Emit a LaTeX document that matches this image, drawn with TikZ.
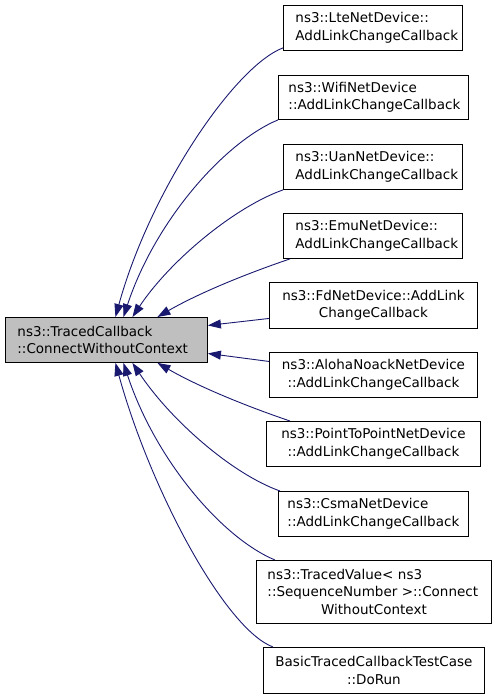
\documentclass[tikz,border=0pt]{standalone}
\usepackage{fontspec}
\setmainfont{DejaVu Sans}
\usetikzlibrary{arrows.meta}
\definecolor{edgeblue}{HTML}{191970}
\definecolor{maingray}{HTML}{BFBFBF}
\begin{document}
\begin{tikzpicture}[x=1pt,y=-1pt,
  box/.style={draw=black, line width=0.9pt, fill=white, inner ysep=0pt, anchor=north west,
    font=\fontsize{13.5}{17.5}\selectfont},
  edge/.style={draw=edgeblue, line width=0.9pt, -{Triangle[length=13pt,width=9pt]}}]
\useasboundingbox (0,0) rectangle (496,699);

\node[box, fill=maingray, text width=178pt, inner xsep=12pt, minimum height=45pt, align=left] (main) at (5,317) {ns3::TracedCallback\\::ConnectWithoutContext};

\node[box, text width=155pt, inner xsep=12pt, minimum height=45pt, align=left] (lte) at (283,5) {ns3::LteNetDevice::\\AddLinkChangeCallback};
\node[box, text width=170pt, inner xsep=10pt, minimum height=44pt, align=left] (wifi) at (278,75) {ns3::WifiNetDevice\\::AddLinkChangeCallback};
\node[box, text width=155pt, inner xsep=12pt, minimum height=45pt, align=left] (uan) at (283,144) {ns3::UanNetDevice::\\AddLinkChangeCallback};
\node[box, text width=155pt, inner xsep=12pt, minimum height=45pt, align=left] (emu) at (283,213) {ns3::EmuNetDevice::\\AddLinkChangeCallback};
\node[box, text width=196pt, inner xsep=6pt, minimum height=46pt, align=center] (fd) at (269,282) {ns3::FdNetDevice::AddLink\\ChangeCallback};
\node[box, text width=196pt, inner xsep=6pt, minimum height=45pt, align=center] (aloha) at (269,352) {ns3::AlohaNoackNetDevice\\::AddLinkChangeCallback};
\node[box, text width=202pt, inner xsep=6pt, minimum height=45pt, align=center] (p2p) at (266,421) {ns3::PointToPointNetDevice\\::AddLinkChangeCallback};
\node[box, text width=172pt, inner xsep=9pt, minimum height=45pt, align=left] (csma) at (278,491) {ns3::CsmaNetDevice\\::AddLinkChangeCallback};
\node[box, text width=213pt, inner xsep=11pt, minimum height=63pt, align=left] (tv) at (256,560) {ns3::TracedValue< ns3\\::SequenceNumber >::Connect\\\makebox[213pt][c]{WithoutContext}};
\node[box, text width=209pt, inner xsep=6pt, minimum height=46pt, align=center] (basic) at (263,647) {BasicTracedCallbackTestCase\\::DoRun};

\draw[edge] ([yshift=3pt]lte.south west) .. controls +(-48,18) and +(35,-127) .. ([xshift=9pt]main.north);
\draw[edge] (wifi.south west) .. controls +(-53,22) and +(32,-97) .. ([xshift=17pt]main.north);
\draw[edge] (uan.south west) .. controls +(-48,17) and +(38,-57) .. ([xshift=26pt]main.north);
\draw[edge] ([xshift=7pt]emu.south west) .. controls +(-50,17) and +(38,-22) .. ([xshift=51pt]main.north);
\draw[edge] ([yshift=-13pt]fd.west) -- ([yshift=14.5pt]main.east);
\draw[edge] ([yshift=13.5pt]aloha.west) -- ([yshift=-13.5pt]main.east);
\draw[edge] ([xshift=24pt]p2p.north west) .. controls +(-50,-17) and +(38,22) .. ([xshift=51pt]main.south);
\draw[edge] ([xshift=2pt]csma.north west) .. controls +(-48,-17) and +(38,57) .. ([xshift=26pt]main.south);
\draw[edge] ([xshift=19pt]tv.north west) .. controls +(-53,-22) and +(32,97) .. ([xshift=17pt]main.south);
\draw[edge] ([xshift=10pt]basic.north west) .. controls +(-48,-18) and +(35,127) .. ([xshift=9pt]main.south);
\end{tikzpicture}
\end{document}
